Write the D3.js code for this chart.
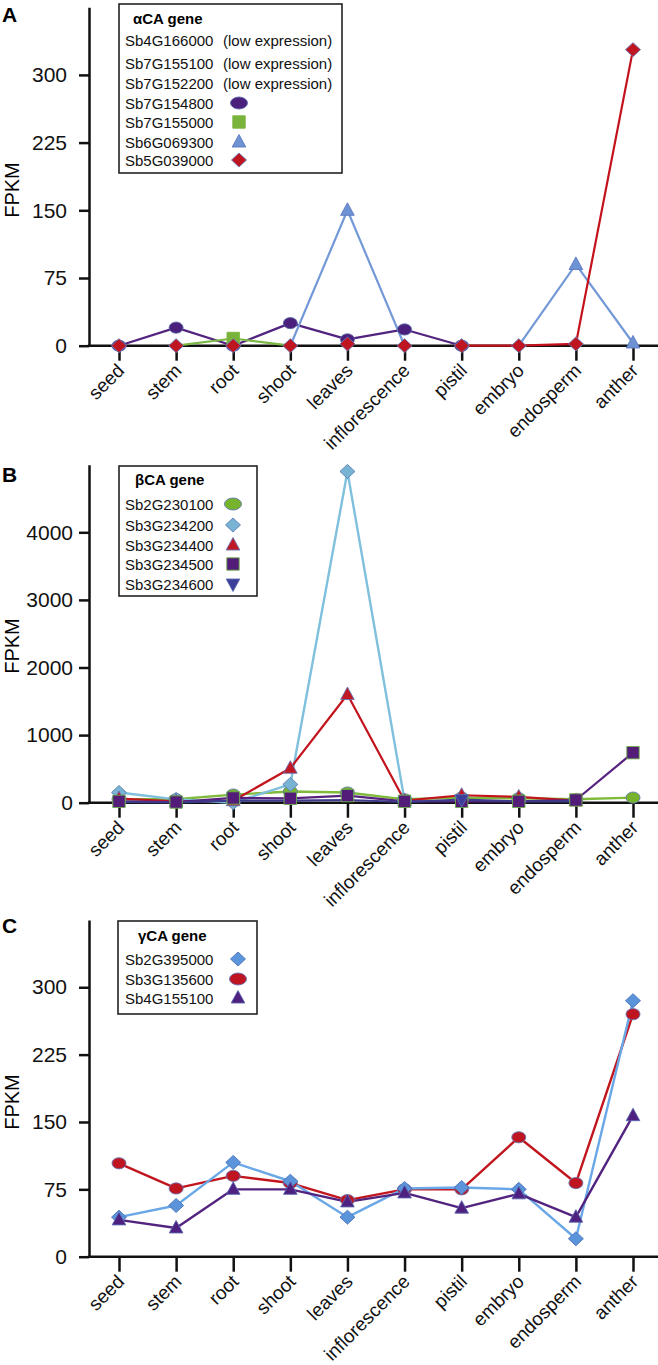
<!DOCTYPE html>
<html>
<head>
<meta charset="utf-8">
<script src="https://cdn.jsdelivr.net/npm/d3@7"></script>
<style>
  html, body { margin: 0; padding: 0; background: #fff; }
  svg { display: block; font-family: "Liberation Sans", Arial, sans-serif; }
</style>
</head>
<body>
<svg id="chart" width="658" height="1365"></svg>
<script>
// ---------------- DATA ----------------
const tissues = ["seed","stem","root","shoot","leaves","inflorescence","pistil","embryo","endosperm","anther"];

// Panel A: alpha CA genes
const alphaLowGenes = ["Sb4G166000","Sb7G155100","Sb7G152200"];
const alphaGenes = ["Sb7G154800","Sb7G155000","Sb6G069300","Sb5G039000"];
const a_Sb7G154800 = [0, 20, 0, 25, 7, 18, 0, null, null, null];
const a_Sb7G155000 = [null, 0, 8, 0, null, null, null, null, null, null];
const a_Sb6G069300 = [null, null, null, 0, 150, 0, null, 0, 90, 3];
const a_Sb5G039000 = [0, 0, 0, 0, 2, 0, 0, 0, 2, 328];
const alphaTicks = [0, 75, 150, 225, 300];

// Panel B: beta CA genes
const betaGenes = ["Sb2G230100","Sb3G234200","Sb3G234400","Sb3G234500","Sb3G234600"];
const b_Sb2G230100 = [50, 50, 120, 165, 150, 50, 75, 65, 50, 75];
const b_Sb3G234200 = [150, 50, 0, 270, 4900, 30, null, null, null, null];
const b_Sb3G234400 = [60, 20, 30, 510, 1600, 30, 110, 85, 30, null];
const b_Sb3G234500 = [20, 10, 70, 65, 105, 20, 20, 20, 40, 740];
const b_Sb3G234600 = [10, 5, 30, 30, 40, 10, 45, 20, 20, null];
const betaTicks = [0, 1000, 2000, 3000, 4000];

// Panel C: gamma CA genes
const gammaGenes = ["Sb2G395000","Sb3G135600","Sb4G155100"];
const c_Sb2G395000 = [44, 57, 105, 84, 44, 76, 77, 75, 20, 285];
const c_Sb3G135600 = [104, 76, 90, 82, 63, 75, 75, 133, 82, 270];
const c_Sb4G155100 = [41, 32, 75, 75, 61, 71, 54, 70, 44, 157];
const gammaTicks = [0, 75, 150, 225, 300];

// ---------------- DRAW ----------------
const svg = d3.select("#chart");
const FONT = '"Liberation Sans", Arial, sans-serif';
const x = d3.scalePoint().domain(tissues).range([119, 633]);
const AXIS_X = 89;

function markerPath(g, shape, cx, cy, fill, stroke) {
  if (shape === "ellipse") {
    g.append("ellipse").attr("cx", cx).attr("cy", cy).attr("rx", 7).attr("ry", 5.6)
      .attr("fill", fill).attr("stroke", stroke).attr("stroke-width", 0.9);
    return;
  }
  let d;
  if (shape === "square") {
    const s = 6.2;
    d = `M${cx-s},${cy-s}H${cx+s}V${cy+s}H${cx-s}Z`;
  } else if (shape === "triangle") {
    d = `M${cx},${cy-7.5}L${cx+6.8},${cy+5}L${cx-6.8},${cy+5}Z`;
  } else if (shape === "triangleDown") {
    d = `M${cx},${cy+7.5}L${cx+6.8},${cy-5}L${cx-6.8},${cy-5}Z`;
  } else if (shape === "diamond") {
    d = `M${cx},${cy-7}L${cx+7.5},${cy}L${cx},${cy+7}L${cx-7.5},${cy}Z`;
  }
  g.append("path").attr("d", d).attr("fill", fill).attr("stroke", stroke).attr("stroke-width", 0.9);
}

function drawPanel(p) {
  const g = svg.append("g");
  const y = d3.scaleLinear().domain([0, p.max]).range([p.y0, p.yTop]);

  // panel letter
  g.append("text").attr("x", 2).attr("y", p.letterY).text(p.letter)
    .attr("font-size", 21).attr("font-weight", "bold").attr("font-family", FONT);

  // y label
  g.append("text").attr("transform", `translate(19,${p.labelY}) rotate(-90)`)
    .attr("text-anchor", "middle").attr("font-size", 20).attr("font-family", FONT).text("FPKM");

  // y axis
  const ya = g.append("g").attr("transform", `translate(${AXIS_X},0)`)
    .call(d3.axisLeft(y).tickValues(p.ticks).tickSize(10).tickSizeOuter(0).tickPadding(p.tickPad).tickFormat(d3.format("d")));
  ya.select(".domain").attr("stroke", "#111").attr("stroke-width", 2.5);
  ya.selectAll(".tick line").attr("stroke", "#111").attr("stroke-width", 2.5);
  ya.selectAll(".tick text").attr("font-size", 21).attr("font-family", FONT).attr("fill", "#111");

  // x axis
  const xa = g.append("g").attr("transform", `translate(0,${p.y0})`)
    .call(d3.axisBottom(x).tickSize(15).tickSizeOuter(0));
  xa.select(".domain").remove();
  xa.selectAll(".tick line").attr("stroke", "#111").attr("stroke-width", 2.5);
  xa.selectAll(".tick text").attr("font-size", 19).attr("font-family", FONT).attr("fill", "#111")
    .attr("y", 0).attr("dy", 0).attr("text-anchor", "end")
    .attr("transform", "translate(6,26) rotate(-45)");
  g.append("line").attr("x1", AXIS_X - 1.2).attr("x2", 658).attr("y1", p.y0).attr("y2", p.y0)
    .attr("stroke", "#111").attr("stroke-width", 2.5);

  // series lines
  p.series.forEach(s => {
    const pts = s.values.map((v, i) => ({ t: tissues[i], v, i }));
    const line = d3.line().defined(d => d.v !== null && d.i >= (s.lineFrom || 0))
      .x(d => x(d.t)).y(d => y(d.v));
    g.append("path").attr("d", line(pts)).attr("fill", "none")
      .attr("stroke", s.line).attr("stroke-width", s.lw || 2.2).attr("stroke-linejoin", "round");
  });
  // markers
  p.series.forEach(s => {
    const mg = g.append("g");
    s.values.forEach((v, i) => {
      if (v === null) return;
      if (s.markerAt && !s.markerAt.includes(i)) return;
      markerPath(mg, s.shape, x(tissues[i]), y(v), s.fill, s.stroke);
    });
  });

  // legend
  const L = p.legend;
  const lg = g.append("g");
  lg.append("rect").attr("x", L.x0).attr("y", L.y0).attr("width", L.x1 - L.x0).attr("height", L.y1 - L.y0)
    .attr("fill", "#fff").attr("stroke", "#222").attr("stroke-width", 1.6);
  lg.append("text").attr("x", L.titleX).attr("y", L.titleY).attr("font-size", 15).attr("font-weight", "bold")
    .attr("font-family", FONT).text(L.title);
  L.rows.forEach(r => {
    lg.append("text").attr("x", L.textX).attr("y", r.y + 5.5).attr("font-size", 15).attr("font-family", FONT)
      .attr("fill", "#111").text(r.name);
    if (r.note) {
      lg.append("text").attr("x", L.noteX).attr("y", r.y + 5.5).attr("font-size", 15).attr("font-family", FONT)
        .attr("fill", "#111").text(r.note);
    } else {
      const s = r.series;
      if (s.shape === "ellipse") {
        lg.append("ellipse").attr("cx", L.symX).attr("cy", r.y).attr("rx", 8.5).attr("ry", 6)
          .attr("fill", s.fill).attr("stroke", s.stroke).attr("stroke-width", 0.9);
      } else {
        markerPath(lg, s.shape, L.symX, r.y, s.fill, s.stroke);
      }
    }
  });
}

// ---- Panel A ----
const A_series = [
  { name: alphaGenes[0], values: a_Sb7G154800, shape: "ellipse", fill: "#4b1f7c", line: "#52237f", stroke: "#5a6aa8", lw: 2.2 },
  { name: alphaGenes[1], values: a_Sb7G155000, shape: "square", fill: "#79b33b", line: "#7cb846", stroke: "#79b33b", lw: 2.2, markerAt: [2] },
  { name: alphaGenes[2], values: a_Sb6G069300, shape: "triangle", fill: "#6e93d4", line: "#7399d6", stroke: "#5a78bf", lw: 2.2, markerAt: [4, 8, 9] },
  { name: alphaGenes[3], values: a_Sb5G039000, shape: "diamond", fill: "#bf1520", line: "#c3121c", stroke: "#6a78b8", lw: 2.2, lineFrom: 6 }
];
drawPanel({
  letter: "A", letterY: 22, labelY: 190, max: 375, y0: 345.7, yTop: 7.2, ticks: alphaTicks, tickPad: 12,
  series: A_series,
  legend: {
    x0: 119, x1: 342, y0: 4, y1: 173, title: "\u03b1CA gene", titleX: 133, titleY: 23.5,
    textX: 125, noteX: 223, symX: 239,
    rows: [
      { name: alphaLowGenes[0], note: "(low expression)", y: 40 },
      { name: alphaLowGenes[1], note: "(low expression)", y: 63 },
      { name: alphaLowGenes[2], note: "(low expression)", y: 83 },
      { name: alphaGenes[0], series: A_series[0], y: 103 },
      { name: alphaGenes[1], series: A_series[1], y: 122 },
      { name: alphaGenes[2], series: A_series[2], y: 142 },
      { name: alphaGenes[3], series: A_series[3], y: 160 }
    ]
  }
});

// ---- Panel B ----
const B_series = [
  { name: betaGenes[0], values: b_Sb2G230100, shape: "ellipse", fill: "#78b32e", line: "#7fba3a", stroke: "#5e78a8", lw: 2.4 },
  { name: betaGenes[1], values: b_Sb3G234200, shape: "diamond", fill: "#78b3d3", line: "#7fc0dc", stroke: "#5c7fb5", lw: 2.4 },
  { name: betaGenes[2], values: b_Sb3G234400, shape: "triangle", fill: "#c01824", line: "#c3141e", stroke: "#6a6fb0", lw: 2.2 },
  { name: betaGenes[3], values: b_Sb3G234500, shape: "square", fill: "#521c78", line: "#56217e", stroke: "#6db04a", lw: 2.2 },
  { name: betaGenes[4], values: b_Sb3G234600, shape: "triangleDown", fill: "#3d3e98", line: "#3d3a8c", stroke: "#5a6ab0", lw: 2.2, markerAt: [6] }
];
drawPanel({
  letter: "B", letterY: 482, labelY: 646, max: 5000, y0: 802.7, yTop: 464.7, ticks: betaTicks, tickPad: 6,
  series: B_series,
  legend: {
    x0: 119, x1: 257, y0: 466, y1: 596, title: "\u03b2CA gene", titleX: 135, titleY: 484.5,
    textX: 125, symX: 233,
    rows: betaGenes.map((n, i) => ({ name: n, series: B_series[i], y: [504, 525, 545, 564, 584][i] }))
  }
});

// ---- Panel C ----
const C_series = [
  { name: gammaGenes[1], values: c_Sb3G135600, shape: "ellipse", fill: "#bf1521", line: "#c2161f", stroke: "#6a6fb0", lw: 2.4 },
  { name: gammaGenes[0], values: c_Sb2G395000, shape: "diamond", fill: "#5b94db", line: "#6aa7e6", stroke: "#4c74b8", lw: 2.4 },
  { name: gammaGenes[2], values: c_Sb4G155100, shape: "triangle", fill: "#4e2080", line: "#53247f", stroke: "#5a64ae", lw: 2.4 }
];
drawPanel({
  letter: "C", letterY: 933, labelY: 1102, max: 375, y0: 1256.7, yTop: 919.9, ticks: gammaTicks, tickPad: 12,
  series: C_series,
  legend: {
    x0: 118, x1: 257, y0: 921, y1: 1014, title: "\u03b3CA gene", titleX: 138, titleY: 941,
    textX: 125, symX: 238,
    rows: [
      { name: gammaGenes[0], series: C_series[1], y: 959 },
      { name: gammaGenes[1], series: C_series[0], y: 979 },
      { name: gammaGenes[2], series: C_series[2], y: 998 }
    ]
  }
});
</script>
</body>
</html>
